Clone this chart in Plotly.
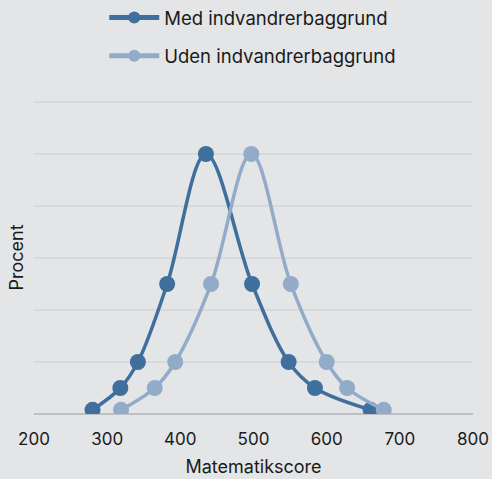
import plotly.graph_objects as go

med_x = [280, 318, 342, 382, 435, 498, 548, 584, 660]
med_y = [0.8, 5, 10, 25, 50, 25, 10, 5, 0.8]
uden_x = [319, 365, 393, 442, 497, 551, 600, 628, 678]
uden_y = [0.8, 5, 10, 25, 50, 25, 10, 5, 0.8]
x_ticks = [200, 300, 400, 500, 600, 700, 800]

dark = "#3e6f9d"
light = "#92abc9"
font = "Inter"

fig = go.Figure()
fig.add_trace(go.Scatter(x=med_x, y=med_y, name="Med indvandrerbaggrund",
                         mode="lines+markers", line=dict(color=dark, width=3.5, shape="spline", smoothing=1),
                         marker=dict(size=16, color=dark), legend="legend"))
fig.add_trace(go.Scatter(x=uden_x, y=uden_y, name="Uden indvandrerbaggrund",
                         mode="lines+markers", line=dict(color=light, width=3.5, shape="spline", smoothing=1),
                         marker=dict(size=16, color=light), legend="legend2"))

fig.update_layout(
    width=492, height=479,
    margin=dict(l=34, r=19, t=101, b=65, autoexpand=False),
    paper_bgcolor="#e4e5e7", plot_bgcolor="#e4e5e7",
    font=dict(family=font, size=17, color="#1a1a1a"),
    showlegend=True,
    legend=dict(x=0.16, y=1.265, xanchor="left", yanchor="middle", bgcolor="rgba(0,0,0,0)",
                font=dict(size=18.5), itemwidth=50, itemsizing="constant"),
    legend2=dict(x=0.16, y=1.143, xanchor="left", yanchor="middle", bgcolor="rgba(0,0,0,0)",
                 font=dict(size=18.5), itemwidth=50, itemsizing="constant"),
    xaxis=dict(range=[200, 800], tickvals=x_ticks, showgrid=False, zeroline=False,
               title=dict(text="Matematikscore", standoff=12, font=dict(size=18)), ticks="", ticklen=0,
               showline=False, automargin=False, tickfont=dict(size=17), ticklabelstandoff=13),
    yaxis=dict(range=[0, 60.2], tickvals=[10, 20, 30, 40, 50, 60], showticklabels=False,
               gridcolor="#d8d9db", gridwidth=1.5,
               zeroline=True, zerolinecolor="#bfc0c2", zerolinewidth=2, automargin=False,
               title=dict(text="Procent", standoff=4, font=dict(size=18))),
)
fig.write_html("out.html", config={"displayModeBar": False},
               post_script="document.body.style.margin='0';document.body.style.overflow='hidden';")
